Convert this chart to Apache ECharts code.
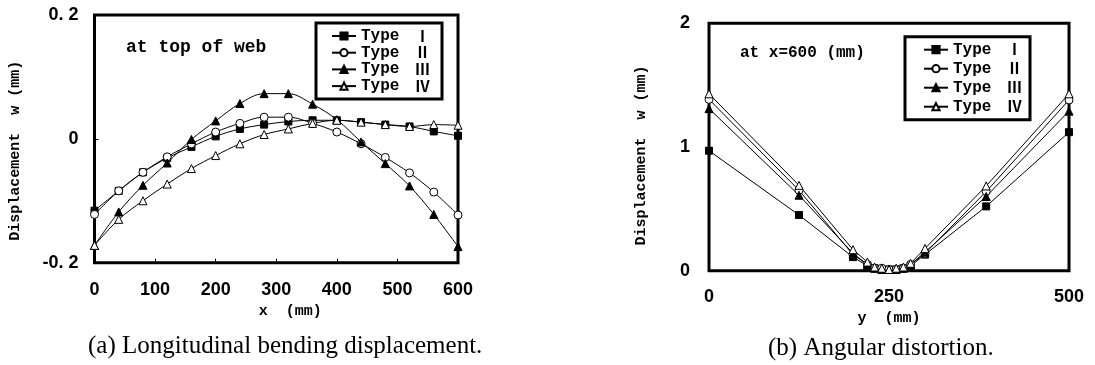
<!DOCTYPE html>
<html>
<head>
<meta charset="utf-8">
<script src="https://cdn.jsdelivr.net/npm/echarts@6/dist/echarts.min.js"></script>
<style>
  html, body { margin: 0; padding: 0; background: #fff; }
  #main { width: 1095px; height: 365px; }
</style>
</head>
<body>
<div id="main"></div>
<script>
// (a) longitudinal bending displacement, at top of web
const xA = [0, 40, 80, 120, 160, 200, 240, 280, 320, 360, 400, 440, 480, 520, 560, 600]
const typeIA = [-0.116, -0.084, -0.054, -0.031, -0.013, 0.004, 0.016, 0.023, 0.028, 0.030, 0.030, 0.027, 0.023, 0.020, 0.012, 0.005]
const typeIIA = [-0.122, -0.084, -0.054, -0.029, -0.008, 0.011, 0.025, 0.035, 0.035, 0.025, 0.011, -0.008, -0.030, -0.055, -0.086, -0.123]
const typeIIIA = [-0.172, -0.118, -0.075, -0.039, -0.001, 0.029, 0.057, 0.073, 0.073, 0.056, 0.031, -0.005, -0.040, -0.076, -0.122, -0.174]
const typeIVA = [-0.172, -0.130, -0.100, -0.073, -0.048, -0.027, -0.008, 0.007, 0.016, 0.025, 0.030, 0.027, 0.023, 0.020, 0.023, 0.022]
const yLabelsA = ['-0. 2', '0', '0. 2']

// (b) angular distortion, at x=600 mm
const yB = [0, 125, 200, 220, 230, 240, 250, 260, 270, 280, 300, 385, 500]
const typeIB = [0.97, 0.45, 0.11, 0.04, 0.02, 0.01, 0.01, 0.01, 0.02, 0.04, 0.13, 0.52, 1.12]
const typeIIB = [1.385, 0.65, 0.13, 0.05, 0.02, 0.02, 0.01, 0.01, 0.02, 0.05, 0.14, 0.64, 1.38]
const typeIIIB = [1.31, 0.61, 0.14, 0.05, 0.02, 0.01, 0.01, 0.01, 0.02, 0.05, 0.15, 0.60, 1.29]
const typeIVB = [1.43, 0.69, 0.17, 0.07, 0.03, 0.02, 0.01, 0.02, 0.03, 0.06, 0.18, 0.685, 1.43]

const typeNames = ['Type Ⅰ', 'Type Ⅱ', 'Type Ⅲ', 'Type Ⅳ']

// marker style per type
const marks = [
  { symbol: 'rect', size: 7, fill: '#000' },
  { symbol: 'circle', size: 8, fill: '#fff' },
  { symbol: 'triangle', size: 8, fill: '#000' },
  { symbol: 'triangle', size: 8, fill: '#fff' }
]

const monoFont = "'Liberation Mono', 'DejaVu Sans Mono', monospace"
const numFont = "'Liberation Sans', Arial, sans-serif"
const cjkFont = "'Noto Sans CJK JP', 'Noto Sans CJK SC', sans-serif"

function pairs(xs, ys) {
  return xs.map((x, i) => [x, ys[i]])
}

function makeSeries(idx, xs, ys, gridIdx, smooth) {
  const m = marks[idx]
  return {
    name: typeNames[idx],
    type: 'line',
    xAxisIndex: gridIdx,
    yAxisIndex: gridIdx,
    data: pairs(xs, ys),
    smooth: smooth,
    symbol: m.symbol,
    symbolSize: m.size,
    showAllSymbol: true,
    lineStyle: { color: '#000', width: 1 },
    itemStyle: { color: m.fill, borderColor: '#000', borderWidth: 1 },
    emphasis: { disabled: true },
    z: 3
  }
}

// "Type" in mono, the roman numeral in a CJK face like the original
function legendLabel(name) {
  const parts = name.split(' ')
  return parts[0] + ' {n|' + parts[1] + '}'
}

const axisText = { color: '#000', fontFamily: numFont, fontWeight: 'bold', fontSize: 18 }
const nameText = { color: '#000', fontFamily: monoFont, fontWeight: 'bold', fontSize: 15 }
const tick = { show: true, inside: true, length: 4, lineStyle: { color: '#000', width: 1 } }
const noLine = { show: false, onZero: false }

const legendBase = {
  orient: 'vertical',
  borderColor: '#000',
  borderWidth: 3,
  backgroundColor: '#fff',
  selectedMode: false,
  align: 'left',
  formatter: legendLabel,
  textStyle: {
    color: '#000', fontFamily: monoFont, fontWeight: 'bold', fontSize: 16, lineHeight: 14,
    rich: {
      n: { fontFamily: cjkFont, fontWeight: 'bold', fontSize: 15, lineHeight: 14, padding: [0, 0, 0, 6] }
    }
  },
  data: typeNames
}

const chart = echarts.init(document.getElementById('main'), null, { renderer: 'canvas' })

chart.setOption({
  animation: false,
  backgroundColor: '#fff',
  grid: [
    { left: 94.5, top: 15, width: 363.5, height: 247.7, show: true, borderColor: '#000', borderWidth: 3, backgroundColor: 'transparent' },
    { left: 709, top: 23.3, width: 360, height: 247.4, show: true, borderColor: '#000', borderWidth: 3, backgroundColor: 'transparent' }
  ],
  xAxis: [
    {
      type: 'value', gridIndex: 0, min: 0, max: 600, interval: 100,
      axisLine: noLine, axisTick: tick, splitLine: { show: false },
      axisLabel: Object.assign({ margin: 18 }, axisText),
      name: 'x  (mm)', nameLocation: 'middle', nameGap: 39,
      nameTextStyle: Object.assign({ padding: [0, 0, 0, 28] }, nameText)
    },
    {
      type: 'value', gridIndex: 1, min: 0, max: 500, interval: 250,
      axisLine: noLine, axisTick: tick, splitLine: { show: false },
      axisLabel: Object.assign({ margin: 17 }, axisText),
      name: 'y  (mm)', nameLocation: 'middle', nameGap: 40,
      nameTextStyle: nameText
    }
  ],
  yAxis: [
    {
      type: 'value', gridIndex: 0, min: -0.2, max: 0.2, interval: 0.2,
      axisLine: noLine, axisTick: tick, splitLine: { show: false },
      axisLabel: Object.assign({ margin: 16, formatter: (v, i) => yLabelsA[i] }, axisText),
      name: 'Displacement  w (mm)', nameLocation: 'middle', nameGap: 72,
      nameTextStyle: Object.assign({ padding: [0, 24, 0, 0] }, nameText)
    },
    {
      type: 'value', gridIndex: 1, min: 0, max: 2, interval: 1,
      axisLine: noLine, axisTick: tick, splitLine: { show: false },
      axisLabel: Object.assign({ margin: 19 }, axisText),
      name: 'Displacement  w (mm)', nameLocation: 'middle', nameGap: 60,
      nameTextStyle: Object.assign({ padding: [0, 17, 0, 0] }, nameText)
    }
  ],
  legend: [
    Object.assign({}, legendBase, {
      left: 316, top: 23, itemWidth: 24, itemHeight: 9, itemGap: 0.7,
      padding: [5, 12, 5, 15]
    }),
    Object.assign({}, legendBase, {
      left: 905, top: 36.7, itemWidth: 24, itemHeight: 9, itemGap: 3,
      padding: [5, 8, 5, 18]
    })
  ],
  graphic: [
    {
      type: 'text', left: 126, top: 38,
      style: { text: 'at top of web', fill: '#000', font: "bold 18px " + monoFont }
    },
    {
      type: 'text', left: 740, top: 45,
      style: { text: 'at x=600 (mm)', fill: '#000', font: "bold 16px " + monoFont }
    },
    {
      type: 'text', left: 88, top: 334,
      style: { text: '(a) Longitudinal bending displacement.', fill: '#000', font: "25px 'Liberation Serif', 'Times New Roman', serif" }
    },
    {
      type: 'text', left: 768, top: 336,
      style: { text: '(b) Angular distortion.', fill: '#000', font: "25px 'Liberation Serif', 'Times New Roman', serif" }
    }
  ],
  series: [
    makeSeries(0, xA, typeIA, 0, 0.35),
    makeSeries(1, xA, typeIIA, 0, 0.35),
    makeSeries(2, xA, typeIIIA, 0, 0.35),
    makeSeries(3, xA, typeIVA, 0, 0.35),
    makeSeries(0, yB, typeIB, 1, false),
    makeSeries(1, yB, typeIIB, 1, false),
    makeSeries(2, yB, typeIIIB, 1, false),
    makeSeries(3, yB, typeIVB, 1, false)
  ]
})
</script>
</body>
</html>
